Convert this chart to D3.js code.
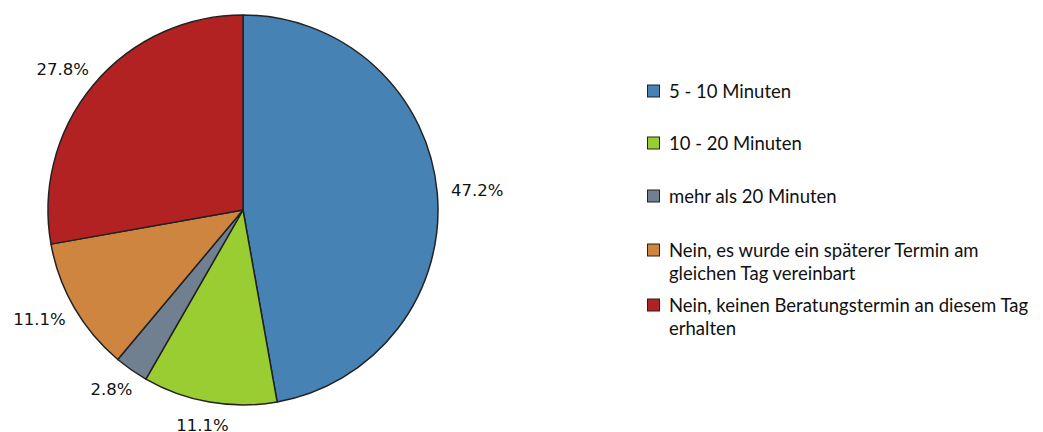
<!DOCTYPE html>
<html>
<head>
<meta charset="utf-8">
<script src="https://cdn.jsdelivr.net/npm/d3@7"></script>
<style>
  html, body { margin: 0; padding: 0; background: #fff; }
  #pie { width: 1043px; height: 432px; }
  .pct { font-family: "DejaVu Sans", sans-serif; font-size: 16.5px; fill: #111; }
  .leg { font-family: Lato, "Open Sans", sans-serif; font-size: 18.5px; fill: #111; }
</style>
</head>
<body>
<div id="pie"></div>
<script>
const categories = [
  '5 - 10 Minuten',
  '10 - 20 Minuten',
  'mehr als 20 Minuten',
  'Nein, es wurde ein späterer Termin am gleichen Tag vereinbart',
  'Nein, keinen Beratungstermin an diesem Tag erhalten'
];
const legendLines = [
  ['5 - 10 Minuten'],
  ['10 - 20 Minuten'],
  ['mehr als 20 Minuten'],
  ['Nein, es wurde ein späterer Termin am', 'gleichen Tag vereinbart'],
  ['Nein, keinen Beratungstermin an diesem Tag', 'erhalten']
];
const shares = [47.2, 11.1, 2.8, 11.1, 27.8];
const colors = ['#4682b4', '#9acd32', '#708090', '#cd853f', '#b22222'];

(function initPie() {
  const width = 1043, height = 432;
  const cx = 243, cy = 210, radius = 195;

  const svg = d3.select('#pie').append('svg')
    .attr('width', width).attr('height', height)
    .attr('viewBox', `0 0 ${width} ${height}`);

  const data = categories.map((c, i) => ({ cat: c, value: shares[i], lines: legendLines[i] }));
  const color = d3.scaleOrdinal().domain(categories).range(colors);

  const pie = d3.pie().sort(null).value(d => d.value);
  const arcs = pie(data);
  const arc = d3.arc().innerRadius(0).outerRadius(radius);

  const g = svg.append('g').attr('transform', `translate(${cx},${cy})`);

  g.selectAll('path.slice').data(arcs).join('path')
    .attr('class', 'slice')
    .attr('d', arc)
    .attr('fill', d => color(d.data.cat))
    .attr('stroke', '#222')
    .attr('stroke-width', 1.5)
    .attr('stroke-linejoin', 'round');

  // percentage labels: just outside the rim, pushed away along the mid angle
  const labR = 209;
  const lbl = g.selectAll('text.pct').data(arcs).join('text')
    .attr('class', 'pct')
    .attr('text-anchor', 'middle')
    .attr('dominant-baseline', 'central')
    .text(d => d.data.value.toFixed(1) + '%');

  lbl.each(function (d) {
    const a = (d.startAngle + d.endAngle) / 2;
    const bb = this.getBBox();
    const s = Math.sin(a), c = -Math.cos(a);
    const x = s * labR + s * bb.width / 2;
    const y = c * labR + c * bb.height / 2;
    d3.select(this).attr('x', x).attr('y', y);
  });

  // legend
  const leg = svg.append('g').attr('transform', 'translate(647,0)');
  const rowY = [91, 143, 196, 250, 305];
  const lineH = 23;

  const items = leg.selectAll('g.item').data(data).join('g')
    .attr('class', 'item')
    .attr('transform', (d, i) => `translate(0,${rowY[i]})`);

  items.append('rect')
    .attr('x', 0.5).attr('y', -6)
    .attr('width', 12).attr('height', 12)
    .attr('fill', d => color(d.cat))
    .attr('stroke', '#222')
    .attr('stroke-width', 1);

  items.append('text')
    .attr('class', 'leg')
    .selectAll('tspan').data(d => d.lines).join('tspan')
    .attr('x', 22)
    .attr('y', (d, i) => i * lineH)
    .attr('dominant-baseline', 'central')
    .text(d => d);
})();
</script>
</body>
</html>
